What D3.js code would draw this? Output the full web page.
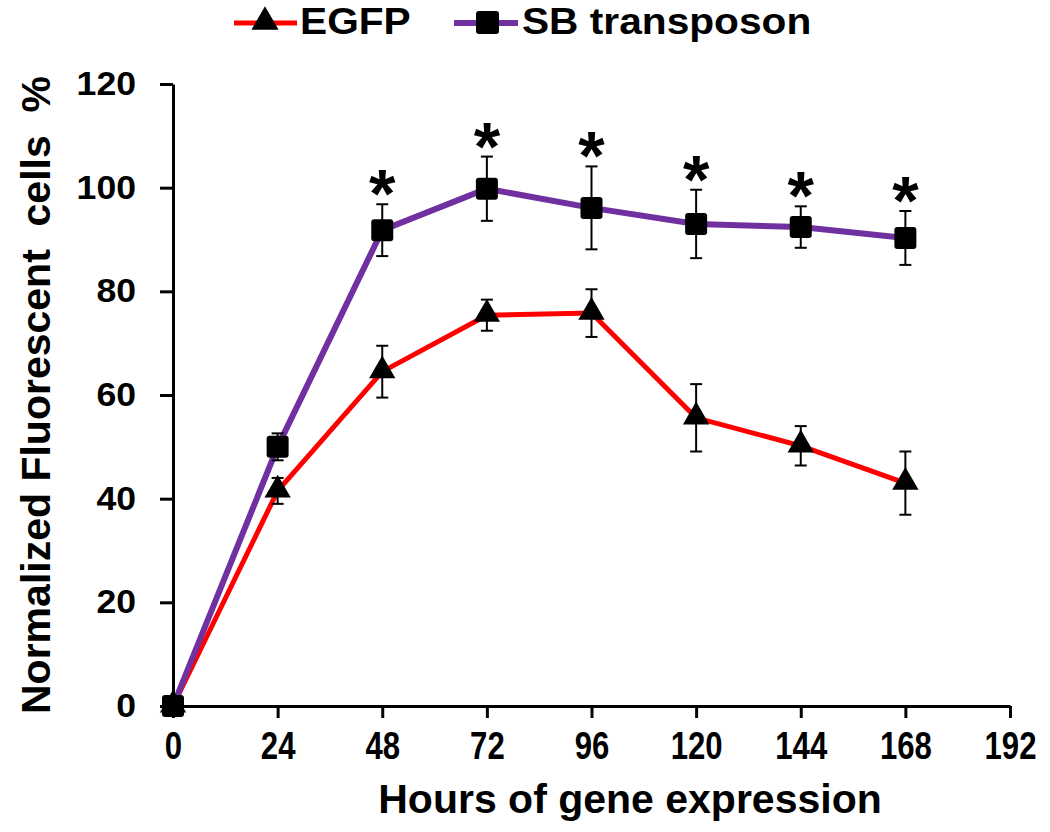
<!DOCTYPE html>
<html><head><meta charset="utf-8">
<script src="https://cdn.jsdelivr.net/npm/d3@7"></script>
<style>body{margin:0;background:#fff}svg{display:block}</style>
</head><body><svg id="c" width="1050" height="832"></svg>
<script>
const hours = [0, 24, 48, 72, 96, 120, 144, 168];
const egfp = [0, 41.5, 64.5, 75.4, 75.8, 55.6, 50.2, 43.0];
const egfpErr = [0, 2.5, 5.0, 3.0, 4.6, 6.5, 3.8, 6.1];
const sb = [0, 50.0, 91.8, 99.8, 96.1, 93.0, 92.4, 90.3];
const sbErr = [0, 2.6, 5.0, 6.2, 8.0, 6.6, 4.0, 5.2];
const significant = [false, false, true, true, true, true, true, true];
const xTicks = [0, 24, 48, 72, 96, 120, 144, 168, 192];
const yTicks = [0, 20, 40, 60, 80, 100, 120];
const seriesNames = ["EGFP", "SB transposon"];
const xTitle = "Hours of gene expression";
const yTitle = "Normalized Fluorescent  cells  %";

const svg = d3.select("#c");
const x = d3.scaleLinear().domain([0, 192]).range([173, 1010]);
const y = d3.scaleLinear().domain([0, 120]).range([706, 84]);
const FONT = "'Liberation Sans', Arial, sans-serif";
const RED = "#ff0000", PURPLE = "#7030a0";

function stretchX(sel, k) {
  sel.each(function(){
    const t = d3.select(this);
    const xx = +(t.attr("x") || 0), yy = +(t.attr("y") || 0);
    t.attr("transform", `translate(${xx},${yy}) scale(${k},1) translate(${-xx},${-yy})`);
  });
}

// axes
const xAx = svg.append("g").attr("transform", `translate(0,${y(0)})`)
  .call(d3.axisBottom(x).tickValues(xTicks).tickSize(12).tickSizeOuter(0).tickPadding(14));
const yAx = svg.append("g").attr("transform", `translate(${x(0)},0)`)
  .call(d3.axisLeft(y).tickValues(yTicks).tickSize(13).tickSizeOuter(0).tickPadding(24));
[xAx, yAx].forEach(g => {
  g.select(".domain").attr("stroke", "#000").attr("stroke-width", 3);
  g.selectAll(".tick line").attr("stroke", "#000").attr("stroke-width", 3);
});
xAx.selectAll(".tick text").attr("font-family", FONT).attr("font-weight", "bold")
  .attr("font-size", 38).attr("fill", "#000").call(stretchX, 0.82);
yAx.selectAll(".tick text").attr("font-family", FONT).attr("font-weight", "bold")
  .attr("font-size", 33).attr("fill", "#000").call(stretchX, 1.08);

// titles
svg.append("text").attr("x", 630).attr("y", 813).attr("text-anchor", "middle")
  .attr("font-family", FONT).attr("font-weight", "bold").attr("font-size", 41)
  .attr("fill", "#000").text(xTitle);
svg.append("text").attr("transform", `translate(50,395) rotate(-90)`).attr("text-anchor", "middle")
  .attr("font-family", FONT).attr("font-weight", "bold").attr("font-size", 41)
  .attr("fill", "#000").style("white-space", "pre").text(yTitle);

const line = d3.line().x(d => x(d[0])).y(d => y(d[1]));
const egfpPts = hours.map((h, i) => [h, egfp[i], egfpErr[i]]);
const sbPts = hours.map((h, i) => [h, sb[i], sbErr[i]]);

svg.append("path").attr("d", line(egfpPts)).attr("fill", "none").attr("stroke", RED).attr("stroke-width", 5);
svg.append("path").attr("d", line(sbPts)).attr("fill", "none").attr("stroke", PURPLE).attr("stroke-width", 6);

function errBars(pts) {
  const g = svg.append("g").attr("stroke", "#000").attr("stroke-width", 2);
  pts.filter(d => d[2] > 0).forEach(d => {
    const cx = x(d[0]);
    g.append("line").attr("x1", cx).attr("x2", cx).attr("y1", y(d[1] + d[2])).attr("y2", y(d[1] - d[2]));
    g.append("line").attr("x1", cx - 6).attr("x2", cx + 6).attr("y1", y(d[1] + d[2])).attr("y2", y(d[1] + d[2]));
    g.append("line").attr("x1", cx - 6).attr("x2", cx + 6).attr("y1", y(d[1] - d[2])).attr("y2", y(d[1] - d[2]));
  });
}
errBars(egfpPts);
errBars(sbPts);

const tri = d3.symbol().type(d3.symbolTriangle).size(300);
svg.append("g").selectAll("path").data(egfpPts).join("path")
  .attr("d", tri).attr("fill", "#000")
  .attr("transform", d => `translate(${x(d[0])},${y(d[1]) - 1})`);
svg.append("g").selectAll("rect").data(sbPts).join("rect")
  .attr("x", d => x(d[0]) - 11).attr("y", d => y(d[1]) - 11)
  .attr("width", 22).attr("height", 22).attr("rx", 3).attr("fill", "#000");

// significance asterisks
svg.append("g").selectAll("text").data(sbPts.filter((d, i) => significant[i])).join("text")
  .attr("x", d => x(d[0])).attr("y", d => y(d[1] + d[2]) + 13)
  .attr("text-anchor", "middle").attr("font-family", FONT).attr("font-weight", "bold")
  .attr("font-size", 68).attr("fill", "#000").text("*");

// legend
const lg = svg.append("g");
lg.append("line").attr("x1", 234).attr("x2", 297).attr("y1", 23).attr("y2", 23).attr("stroke", RED).attr("stroke-width", 5);
lg.append("path").attr("d", d3.symbol().type(d3.symbolTriangle).size(320)).attr("fill", "#000").attr("transform", "translate(265,22)");
lg.append("text").attr("x", 300).attr("y", 34).attr("font-family", FONT).attr("font-weight", "bold")
  .attr("font-size", 36).attr("fill", "#000").text(seriesNames[0]).call(stretchX, 1.13);
lg.append("line").attr("x1", 454).attr("x2", 518).attr("y1", 23).attr("y2", 23).attr("stroke", PURPLE).attr("stroke-width", 6);
lg.append("rect").attr("x", 476).attr("y", 11).attr("width", 23).attr("height", 23).attr("rx", 3).attr("fill", "#000");
lg.append("text").attr("x", 522).attr("y", 34).attr("font-family", FONT).attr("font-weight", "bold")
  .attr("font-size", 36).attr("fill", "#000").text(seriesNames[1]).call(stretchX, 1.13);
</script></body></html>
